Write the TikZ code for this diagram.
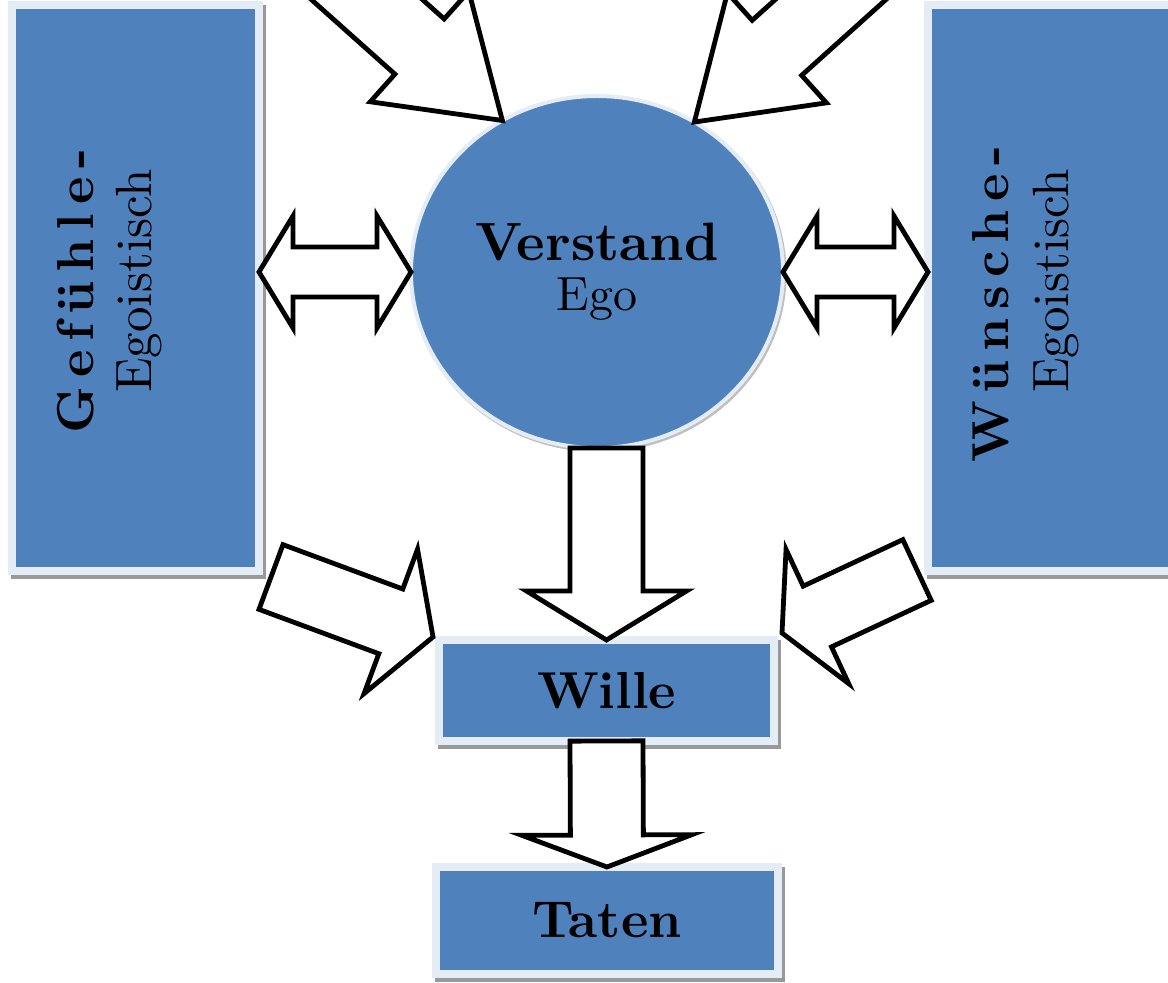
\documentclass[tikz,border=0pt]{standalone}
\usepackage{fontspec}
\setmainfont{lmroman10}[Extension=.otf, UprightFont=*-regular, BoldFont=*-bold]
\newfontfamily\spacedfont{lmroman10}[Extension=.otf, UprightFont=*-regular, BoldFont=*-bold, LetterSpace=17]
\usetikzlibrary{calc,shapes.geometric}

\definecolor{fillblue}{RGB}{79,129,189}
\definecolor{rimblue}{RGB}{228,236,246}

\tikzset{
  box/.style={fill=fillblue, draw=rimblue, line width=4pt, inner sep=0pt, outer sep=0pt,
    preaction={draw=black!40, line width=4pt, transform canvas={shift={(1.5pt,-2pt)}}}},
  egobox/.style={ellipse, fill=fillblue, draw=rimblue, line width=2pt, inner sep=0pt, outer sep=0pt, align=center,
    preaction={draw=black!25, line width=2pt, transform canvas={shift={(0.8pt,-1pt)}}}},
  blockarr/.style={draw=black, fill=white, line width=2.4pt, line join=miter},
  headfont/.style={font=\fontsize{26pt}{30pt}\selectfont\bfseries},
  sidefont/.style={font=\spacedfont\fontsize{26pt}{30pt}\selectfont\bfseries},
  subfont/.style={font=\fontsize{25.5pt}{28pt}\selectfont},
}

% tail, tip, shaft half width, head half width, head length
\newcommand\blockarrow[5]{%
  \coordinate (ba-c) at ($(#2)!#5!(#1)$);
  \draw[blockarr] ($(#1)!#3!90:(#2)$) -- ($(ba-c)!#3!90:(#2)$) -- ($(ba-c)!#4!90:(#2)$) -- (#2)
    -- ($(ba-c)!#4!-90:(#2)$) -- ($(ba-c)!#3!-90:(#2)$) -- ($(#1)!#3!-90:(#2)$) -- cycle;}

\newcommand\dblarrow[5]{%
  \coordinate (da-a) at ($(#1)!#5!(#2)$);
  \coordinate (da-b) at ($(#2)!#5!(#1)$);
  \draw[blockarr] (#1) -- ($(da-a)!#4!90:(#2)$) -- ($(da-a)!#3!90:(#2)$)
    -- ($(da-b)!#3!-90:(#1)$) -- ($(da-b)!#4!-90:(#1)$) -- (#2)
    -- ($(da-b)!#4!90:(#1)$) -- ($(da-b)!#3!90:(#1)$)
    -- ($(da-a)!#3!-90:(#2)$) -- ($(da-a)!#4!-90:(#2)$) -- cycle;}

\begin{document}
\begin{tikzpicture}[x=0.5pt,y=-0.5pt]
\useasboundingbox (0,0) rectangle (1168,983);
\clip (0,0) rectangle (1168,983);

\node[box, minimum width=123.5pt, minimum height=283pt] (gef) at (135.5,288) {};
\node[box, minimum width=126pt, minimum height=283pt] (wun) at (1054,288) {};
\node[sidefont, rotate=90, anchor=base] (gef-a) at (93,291) {Gefühle-};
\node[subfont, rotate=90, anchor=base] (gef-b) at (151,281) {Egoistisch};
\node[sidefont, rotate=90, anchor=base] (wun-a) at (1008,304) {Wünsche-};
\node[subfont, rotate=90, anchor=base] (wun-b) at (1068,281) {Egoistisch};

\node[egobox, minimum width=186pt, minimum height=176pt, font=\fontsize{24pt}{25pt}\selectfont] (ver) at (597,272)
  {{\bfseries\fontsize{27pt}{25pt}\selectfont Verstand}\\Ego};
\node[box, headfont, minimum width=167.5pt, minimum height=50.5pt] (wil) at (606.5,690.5) {Wille};
\node[box, headfont, minimum width=171pt, minimum height=53.5pt] (tat) at (607,920.5) {Taten};

\coordinate (tl) at (280,-78);
\coordinate (tr) at (918,-79);
\blockarrow{tl}{ver.122}{18.5pt}{37pt}{55.5pt}
\blockarrow{tr}{ver.57}{18.5pt}{37pt}{55.5pt}

\coordinate (gv) at (gef.east |- ver.west);
\coordinate (wv) at (wun.west |- ver.east);
\dblarrow{gv}{ver.west}{12.5pt}{28pt}{17pt}
\dblarrow{ver.east}{wv}{12.5pt}{28pt}{17pt}

\coordinate (gl) at ($(gef.south east)+(12,6)$);
\coordinate (wl) at ($(wil.north west)+(-6,-3)$);
\coordinate (wr) at ($(wun.south west)+(-11,-1)$);
\coordinate (wn) at ($(wil.north east)+(8,-7)$);
\blockarrow{gl}{wl}{17.25pt}{38.5pt}{22.5pt}
\blockarrow{wr}{wn}{16.75pt}{37pt}{19.5pt}

\coordinate (vs) at (wil.north |- ver.south);
\blockarrow{vs}{wil.north}{18.25pt}{40pt}{24.5pt}
\blockarrow{wil.south}{tat.north}{18.25pt}{42.5pt}{16pt}
\end{tikzpicture}
\end{document}
